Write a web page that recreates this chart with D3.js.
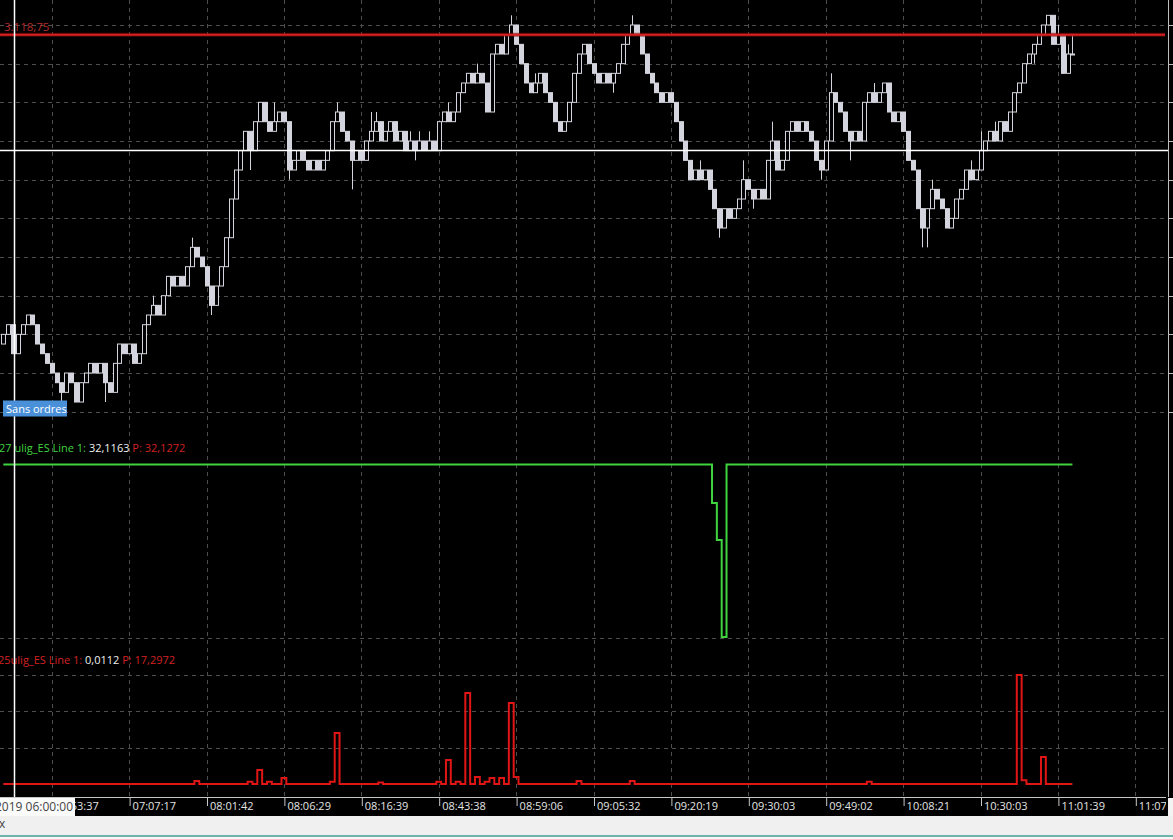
<!DOCTYPE html>
<html><head><meta charset="utf-8">
<script src="https://cdn.jsdelivr.net/npm/d3@7"></script>
<style>
html,body{margin:0;padding:0;background:#000;overflow:hidden}
svg{display:block}
text{font-family:"Open Sans","Noto Sans",sans-serif}
</style></head><body>
<svg id="c" width="1173" height="839"></svg>
<script>
// ---------- DATA ----------
const firstOpen = 3110.75;
const closes = [
3111,3111.25,3110.5,3111,3111.25,3111.5,3111.25,3110.75,3110.5,3110.25,
3110,3109.75,3109.5,3110,3109.75,3109.25,3109.75,3110,3110.25,3110,
3110.25,3109.75,3109.5,3110.25,3110.75,3110.5,3110.75,3110.25,3110.5,3111.25,
3111.5,3111.75,3111.5,3112,3112.5,3112.25,3112.5,3112.25,3112.75,3113.25,
3113,3112.75,3112.25,3111.75,3112.25,3112.75,3113.5,3114.5,3115.25,3115.75,
3116.25,3115.75,3116.5,3117,3116.5,3116.25,3116.5,3116.75,3116.5,3115.25,
3115.5,3115.75,3115.5,3115.25,3115.5,3115.25,3115.5,3115.75,3116.5,3116.75,
3116.25,3116,3115.5,3115.75,3115.5,3116,3116.25,3116.5,3116,3116.25,
3116.5,3116,3116.25,3115.75,3116,3115.75,3116,3115.75,3116,3115.75,
3116.5,3116.75,3116.5,3116.75,3117.25,3117.5,3117.75,3117.5,3117.75,3117.5,
3116.75,3118.25,3118.5,3118.25,3118.75,3119,3118.5,3118,3117.5,3117.25,
3117.5,3117.75,3117.25,3117,3116.5,3116.25,3116.5,3117,3117.75,3118.25,
3118.5,3118,3117.75,3117.5,3117.75,3117.5,3117.75,3118,3118.5,3118.75,
3119,3118.75,3118.25,3117.75,3117.5,3117.25,3117,3117.25,3117,3116.5,
3116,3115.5,3115,3115.25,3115,3115.25,3114.75,3114.25,3113.75,3114.25,
3114,3114.25,3114.5,3115,3114.75,3114.5,3114.75,3114.5,3115.5,3116,
3115.25,3115.5,3116.25,3116.5,3116.25,3116.5,3116.25,3116,3115.5,3115.25,
3116,3117.25,3117,3116.75,3116.25,3116,3116.25,3116,3117,3117.25,
3117,3117.25,3117.5,3116.75,3116.5,3116.75,3116.25,3115.5,3115.25,3114.25,
3113.75,3114.25,3114.75,3114.5,3114.25,3113.75,3114,3114.5,3114.75,3115.25,
3115,3115.25,3115.75,3116,3116.25,3116,3116.5,3116.25,3116.75,3117.25,
3117.5,3118,3118.25,3118.5,3118.75,3119,3119.25,3118.5,3118.75,3117.75,
3118.25,3118.25
];
const wickHighs = [[31,3112],[39,3113.5],[56,3117],[69,3117],[76,3116.75],[77,3116.75],[84,3116.25],[86,3116.25],[88,3116.25],[92,3117],[98,3118],[105,3119.25],[110,3117.75],[130,3119.25],[144,3115.5],[153,3115.5],[159,3116.5],[171,3117.75],[180,3117.5],[186,3116.75],[192,3115],[200,3115.5],[202,3116.25],[205,3116.5],[218,3119],[220,3118.5],[221,3118.75]];
const wickLows = [[12,3109.25],[21,3109.25],[43,3111.5],[51,3115.25],[59,3115],[72,3114.75],[85,3115.5],[126,3117.25],[148,3113.5],[155,3114.25],[169,3115],[175,3115.5],[190,3113.25],[191,3113.25],[213,3118]];
const priceLevel = 3118.75;
const priceGridValues = [3109,3110,3111,3112,3113,3114,3115,3116,3117,3118,3119];

const line1 = [
32.1163,32.1163,32.1163,32.1163,32.1163,32.1163,32.1163,32.1163,32.1163,32.1163,
32.1163,32.1163,32.1163,32.1163,32.1163,32.1163,32.1163,32.1163,32.1163,32.1163,
32.1163,32.1163,32.1163,32.1163,32.1163,32.1163,32.1163,32.1163,32.1163,32.1163,
32.1163,32.1163,32.1163,32.1163,32.1163,32.1163,32.1163,32.1163,32.1163,32.1163,
32.1163,32.1163,32.1163,32.1163,32.1163,32.1163,32.1163,32.1163,32.1163,32.1163,
32.1163,32.1163,32.1163,32.1163,32.1163,32.1163,32.1163,32.1163,32.1163,32.1163,
32.1163,32.1163,32.1163,32.1163,32.1163,32.1163,32.1163,32.1163,32.1163,32.1163,
32.1163,32.1163,32.1163,32.1163,32.1163,32.1163,32.1163,32.1163,32.1163,32.1163,
32.1163,32.1163,32.1163,32.1163,32.1163,32.1163,32.1163,32.1163,32.1163,32.1163,
32.1163,32.1163,32.1163,32.1163,32.1163,32.1163,32.1163,32.1163,32.1163,32.1163,
32.1163,32.1163,32.1163,32.1163,32.1163,32.1163,32.1163,32.1163,32.1163,32.1163,
32.1163,32.1163,32.1163,32.1163,32.1163,32.1163,32.1163,32.1163,32.1163,32.1163,
32.1163,32.1163,32.1163,32.1163,32.1163,32.1163,32.1163,32.1163,32.1163,32.1163,
32.1163,32.1163,32.1163,32.1163,32.1163,32.1163,32.1163,32.1163,32.1163,32.1163,
32.1163,32.1163,32.1163,32.1163,32.1163,32.1163,32.1163,29.73,27.43,21.43,
32.1163,32.1163,32.1163,32.1163,32.1163,32.1163,32.1163,32.1163,32.1163,32.1163,
32.1163,32.1163,32.1163,32.1163,32.1163,32.1163,32.1163,32.1163,32.1163,32.1163,
32.1163,32.1163,32.1163,32.1163,32.1163,32.1163,32.1163,32.1163,32.1163,32.1163,
32.1163,32.1163,32.1163,32.1163,32.1163,32.1163,32.1163,32.1163,32.1163,32.1163,
32.1163,32.1163,32.1163,32.1163,32.1163,32.1163,32.1163,32.1163,32.1163,32.1163,
32.1163,32.1163,32.1163,32.1163,32.1163,32.1163,32.1163,32.1163,32.1163,32.1163,
32.1163,32.1163,32.1163,32.1163,32.1163,32.1163,32.1163,32.1163,32.1163,32.1163,
32.1163,32.1163
];
const line2 = [
0.0112,0.0112,0.0112,0.0112,0.0112,0.0112,0.0112,0.0112,0.0112,0.0112,
0.0112,0.0112,0.0112,0.0112,0.0112,0.0112,0.0112,0.0112,0.0112,0.0112,
0.0112,0.0112,0.0112,0.0112,0.0112,0.0112,0.0112,0.0112,0.0112,0.0112,
0.0112,0.0112,0.0112,0.0112,0.0112,0.0112,0.0112,0.0112,0.0112,0.0112,
0.41,0.0112,0.0112,0.0112,0.0112,0.0112,0.0112,0.0112,0.0112,0.0112,
0.0112,0.3,0.0112,1.92,0.0112,0.3,0.0112,0.0112,0.82,0.0112,
0.0112,0.0112,0.0112,0.0112,0.0112,0.0112,0.0112,0.0112,0.3,6.99,
0.0112,0.0112,0.0112,0.0112,0.0112,0.0112,0.0112,0.0112,0.2,0.0112,
0.0112,0.0112,0.0112,0.0112,0.0112,0.0112,0.0112,0.0112,0.0112,0.0112,
0.3,0.0112,3.29,0.0112,0.3,0.0112,12.47,0.0112,0.96,0.0112,
0.3,0.82,0.0112,0.82,0.0112,11.10,0.96,0.0112,0.0112,0.0112,
0.0112,0.0112,0.0112,0.0112,0.0112,0.0112,0.0112,0.0112,0.0112,0.41,
0.0112,0.0112,0.0112,0.0112,0.0112,0.0112,0.0112,0.0112,0.0112,0.0112,
0.41,0.0112,0.0112,0.0112,0.0112,0.0112,0.0112,0.0112,0.0112,0.0112,
0.0112,0.0112,0.0112,0.0112,0.0112,0.0112,0.0112,0.0112,0.0112,0.0112,
0.0112,0.0112,0.0112,0.0112,0.0112,0.0112,0.0112,0.0112,0.0112,0.0112,
0.0112,0.0112,0.0112,0.0112,0.0112,0.0112,0.0112,0.0112,0.0112,0.0112,
0.0112,0.0112,0.0112,0.0112,0.0112,0.0112,0.0112,0.0112,0.0112,0.3,
0.0112,0.0112,0.0112,0.0112,0.0112,0.0112,0.0112,0.0112,0.0112,0.0112,
0.0112,0.0112,0.0112,0.0112,0.0112,0.0112,0.0112,0.0112,0.0112,0.0112,
0.0112,0.0112,0.0112,0.0112,0.0112,0.0112,0.0112,0.0112,0.0112,0.0112,
14.93,0.5,0.0112,0.0112,0.0112,3.70,0.0112,0.0112,0.0112,0.0112,
0.0112,0.0112
];
const panel3Grid = [5,10,15,20];
const tickIdx = [10,26,42,58,74,90,106,122,138,154,170,186,202,218,234];
const tickLabels = ["06:53:37","07:07:17","08:01:42","08:06:29","08:16:39","08:43:38","08:59:06","09:05:32","09:20:19","09:30:03","09:49:02","10:08:21","10:30:03","11:01:39","11:07:45"];

// ---------- CHART ----------
const W=1173,H=839, plotR=1168, axisY=797;
const svg=d3.select("#c");
svg.append("rect").attr("width",W).attr("height",H).attr("fill","#000");

const x=d3.scaleLinear().domain([0,234]).range([3.33,1135.3]);
const yP=d3.scaleLinear().domain([3109,3119]).range([411.7,25]);
const y2=d3.scaleLinear().domain([20,34]).range([660,434]);
const y3=d3.scaleLinear().domain([0,20]).range([784,638]);
const cr=v=>Math.round(v)+0.5;

// grid
const grid=svg.append("g").attr("stroke","#4e4e4e").attr("stroke-dasharray","4,4").attr("stroke-width",1);
tickIdx.forEach(t=>grid.append("line").attr("x1",cr(x(t))).attr("x2",cr(x(t))).attr("y1",0).attr("y2",axisY));
priceGridValues.forEach(v=>grid.append("line").attr("x1",0).attr("x2",plotR).attr("y1",cr(yP(v))).attr("y2",cr(yP(v))));
panel3Grid.forEach(v=>grid.append("line").attr("x1",0).attr("x2",plotR).attr("y1",cr(y3(v))).attr("y2",cr(y3(v))));

// candles
const bars=closes.map((c,i)=>{const o=i===0?firstOpen:closes[i-1];return {i,o,c,h:Math.max(o,c),l:Math.min(o,c)};});
wickHighs.forEach(([i,v])=>{bars[i].h=Math.max(bars[i].h,v);});
wickLows.forEach(([i,v])=>{bars[i].l=Math.min(bars[i].l,v);});
const cg=svg.append("g");
const CC="#d4d4de";
cg.selectAll("line.w").data(bars).join("line").attr("class","w")
  .attr("x1",d=>Math.round(x(d.i))+0.5).attr("x2",d=>Math.round(x(d.i))+0.5)
  .attr("y1",d=>yP(d.h)).attr("y2",d=>yP(d.l)).attr("stroke",CC).attr("stroke-width",1);
cg.selectAll("rect").data(bars).join("rect")
  .attr("x",d=>Math.round(x(d.i))-1.5).attr("width",4)
  .attr("y",d=>yP(Math.max(d.o,d.c))).attr("height",d=>Math.max(1,Math.abs(yP(d.o)-yP(d.c))))
  .attr("fill",d=>d.c>d.o?"#000":CC).attr("stroke",CC).attr("stroke-width",1);

// price level line
svg.append("line").attr("x1",0).attr("x2",1165).attr("y1",yP(priceLevel)).attr("y2",yP(priceLevel))
  .attr("stroke","#7a1010").attr("stroke-width",4).attr("opacity",0.6);
svg.append("line").attr("x1",0).attr("x2",1165).attr("y1",yP(priceLevel)).attr("y2",yP(priceLevel))
  .attr("stroke","#d82020").attr("stroke-width",2);
svg.append("text").attr("x",4).attr("y",yP(priceLevel)-3.5).attr("fill","#b42a2a").attr("font-size",11.5)
  .text("3.118,75");

// indicator 1
svg.append("path").datum(line1)
  .attr("d",d3.line().x((d,i)=>x(i)).y(d=>y2(d)).curve(d3.curveStep))
  .attr("fill","none").attr("stroke","#3fd43f").attr("stroke-width",2);
// indicator 2
svg.append("path").datum(line2)
  .attr("d",d3.line().x((d,i)=>x(i)).y(d=>y3(d)).curve(d3.curveStep))
  .attr("fill","none").attr("stroke","#e01515").attr("stroke-width",2);

// legends
const lg1=svg.append("text").attr("x",-1).attr("y",451.5).attr("font-size",11);
lg1.append("tspan").attr("fill","#3fd43f").text("27 ulig_ES  Line 1: ");
lg1.append("tspan").attr("fill","#f0f0f0").text("32,1163  ");
lg1.append("tspan").attr("fill","#d42020").text("P: 32,1272");
const lg2=svg.append("text").attr("x",-2).attr("y",664).attr("font-size",11);
lg2.append("tspan").attr("fill","#d42020").text("25ulig_ES  Line 1: ");
lg2.append("tspan").attr("fill","#f0f0f0").text("0,0112  ");
lg2.append("tspan").attr("fill","#d42020").text("P: 17,2972");

// crosshair
svg.append("line").attr("x1",0).attr("x2",plotR).attr("y1",150.5).attr("y2",150.5).attr("stroke","#fff").attr("stroke-width",1.5);
svg.append("line").attr("x1",14.5).attr("x2",14.5).attr("y1",0).attr("y2",axisY).attr("stroke","#fff").attr("stroke-width",1.5);

// order label
svg.append("rect").attr("x",3).attr("y",400.5).attr("width",64).attr("height",16).attr("fill","#4a90d9");
svg.append("text").attr("x",6).attr("y",412.5).attr("fill","#fff").attr("font-size",11).text("Sans ordres");

// right price-axis edge
svg.append("line").attr("x1",1168.5).attr("x2",1168.5).attr("y1",0).attr("y2",axisY).attr("stroke","#bdbdbd");
priceGridValues.forEach(v=>svg.append("line").attr("x1",1169).attr("x2",1173).attr("y1",cr(yP(v))).attr("y2",cr(yP(v))).attr("stroke","#bdbdbd"));

// time axis (clip rect is in the axis group's local coordinates)
svg.append("defs").append("clipPath").attr("id","ac").append("rect").attr("x",0).attr("y",-1).attr("width",1166).attr("height",22);
const ax=svg.append("g").attr("transform",`translate(0,${axisY})`).attr("clip-path","url(#ac)")
  .call(d3.axisBottom(x).tickValues(tickIdx).tickFormat((d,i)=>tickLabels[i]).tickSize(9).tickSizeOuter(0));
ax.select(".domain").attr("stroke","#c8c8c8").attr("d","M0,0.5H1173");
ax.selectAll(".tick line").attr("stroke","#c8c8c8").attr("transform","translate(0.5,0)");
ax.selectAll(".tick text").attr("fill","#e4e4e4").attr("font-size",11).attr("font-family","'Open Sans',sans-serif")
  .attr("text-anchor","start").attr("x",3).attr("y",5).attr("dy","0.71em");

// crosshair time label
svg.append("rect").attr("x",0).attr("y",axisY+1).attr("width",75).attr("height",18).attr("fill","#fbfbfb");
svg.append("text").attr("x",73).attr("y",axisY+14).attr("text-anchor","end").attr("fill","#444").attr("font-size",12).text("23/12/2019 06:00:00");
svg.append("rect").attr("x",1168).attr("y",axisY+1).attr("width",5).attr("height",18).attr("fill","#f4f4f4");

// bottom strip
svg.append("rect").attr("x",0).attr("y",816).attr("width",W).attr("height",20).attr("fill","#f0f0f0");
svg.append("text").attr("x",-1).attr("y",828).attr("fill","#444").attr("font-size",12).text("x");
svg.append("rect").attr("x",0).attr("y",835).attr("width",W).attr("height",2).attr("fill","#6fb3aa");
svg.append("rect").attr("x",0).attr("y",837).attr("width",W).attr("height",2).attr("fill","#f6f6f6");
</script>
</body></html>
